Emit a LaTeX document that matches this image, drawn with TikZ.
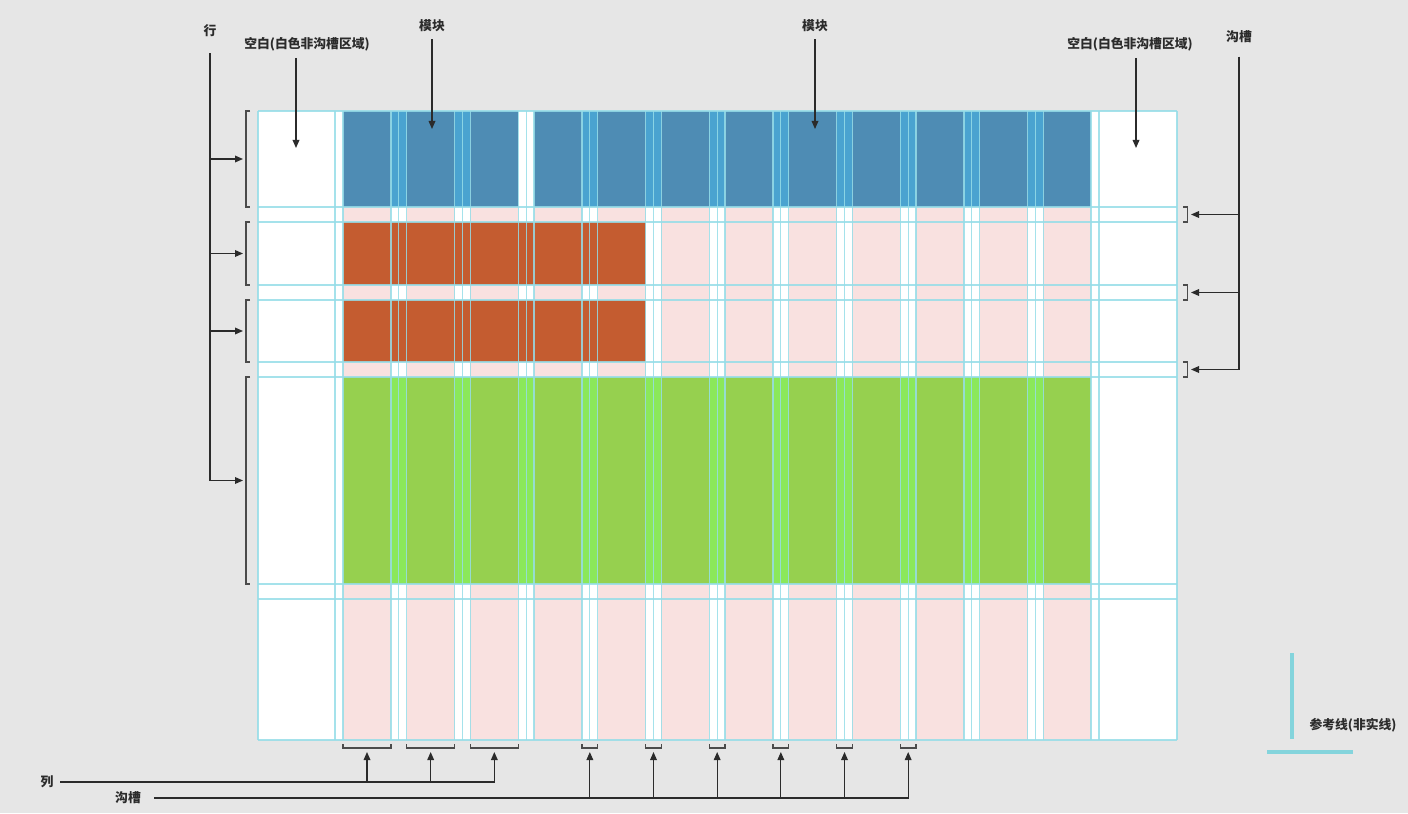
\documentclass[tikz,border=0pt]{standalone}
\usepackage{fontspec}
\setmainfont{Noto Sans CJK SC}
\usetikzlibrary{arrows.meta}

\definecolor{bggray}{HTML}{E6E6E6}
\definecolor{guide}{HTML}{96DDE8}
\definecolor{colpink}{HTML}{F9E1E0}
\definecolor{blueblk}{HTML}{4E8CB4}
\definecolor{bluegut}{HTML}{4AA3D0}
\definecolor{orangeblk}{HTML}{C45C30}
\definecolor{greenblk}{HTML}{96D04F}
\definecolor{greengut}{HTML}{8BE85A}
\definecolor{inkgray}{HTML}{2B2B2B}
\definecolor{refcyan}{HTML}{84D4DC}

\begin{document}
\begin{tikzpicture}[x=0.75pt, y=-0.75pt,
    lbl/.style={font=\bfseries\fontsize{9.6}{12}\selectfont, text=inkgray, inner sep=5pt},
    arr/.style={draw=inkgray, line width=0.9pt, -{Triangle[length=6pt,width=5pt]}},
    brace/.style={draw=inkgray!85, line width=0.8pt},
    guideline/.style={draw=guide, line width=0.9pt, opacity=0.85},
    refline/.style={draw=refcyan, line width=2.6pt}
]

% Canvas
\fill[bggray] (0,0) rectangle (1408,813);
\useasboundingbox (0,0) rectangle (1408,813);

% Grid
\fill[white] (258,111) rectangle (1177,740);
\foreach \i in {0,...,11}
    \fill[colpink] ({343+\i*63.667},111) rectangle ++(48,629);

% Modules
\fill[blueblk] (343,111) rectangle (518.33,207);
\fill[blueblk] (534,111) rectangle (1091,207);
\foreach \i in {0,1,3,4,...,10}
    \fill[bluegut] ({391+\i*63.667},111) rectangle ++(15.667,96);
\fill[orangeblk] (343,222) rectangle (645.67,285);
\fill[orangeblk] (343,300) rectangle (645.67,362);
\fill[greenblk] (343,377) rectangle (1091,584);
\foreach \i in {0,...,10}
    \fill[greengut] ({391+\i*63.667},377) rectangle ++(15.667,207);

% Guide lines
\foreach \x in {258,335,343,1091,1099,1177}
    \draw[guideline] (\x,111) -- (\x,740);
\foreach \i in {0,...,10}
    \foreach \d in {0,7.833,15.667}
        \draw[guideline] ({391+\i*63.667+\d},111) -- ++(0,629);
\foreach \y in {111,207,222,285,300,362,377,584,599,740}
    \draw[guideline] (258,\y) -- (1177,\y);

% Rows
\node[lbl] (rowlbl) at (210,31) {行};
\foreach \n/\a/\b in {1/111/207, 2/222/285, 3/300/362, 4/377/584} {
    \draw[brace] (250,\a) -- (246,\a) -- (246,\b) -- (250,\b);
    \coordinate (rowbr\n) at (243,{(\a+\b)/2});
}
\draw[arr, shorten <=7pt] (rowlbl) |- (rowbr4);
\foreach \n in {1,2,3}
    \draw[arr] (rowlbl |- rowbr\n) -- (rowbr\n);

% Blank margins and modules
\node[lbl] (blankl) at (307,44) {空白(白色非沟槽区域)};
\node[lbl] (blankr) at (1130,44) {空白(白色非沟槽区域)};
\node[lbl] (modl) at (432,26) {模块};
\node[lbl] (modr) at (815,26) {模块};
\coordinate (blankltip) at (296,148);
\coordinate (blankrtip) at (1136,148);
\coordinate (modltip) at (432,129);
\coordinate (modrtip) at (815,129);
\draw[arr] (blankltip |- blankl.south) -- (blankltip);
\draw[arr] (blankrtip |- blankr.south) -- (blankrtip);
\draw[arr] (modl) -- (modltip);
\draw[arr] (modr) -- (modrtip);

% Row gutters
\node[lbl] (gutlbl) at (1239,37) {沟槽};
\foreach \n/\a/\b in {1/207/222, 2/285/300, 3/362/377} {
    \draw[brace] (1183,\a) -- (1187.5,\a) -- (1187.5,\b) -- (1183,\b);
    \coordinate (gutbr\n) at (1191,{(\a+\b)/2});
}
\draw[arr, shorten <=5pt] (gutlbl) |- (gutbr3);
\foreach \n in {1,2}
    \draw[arr] (gutlbl |- gutbr\n) -- (gutbr\n);

% Columns
\foreach \n in {1,2,3} {
    \pgfmathsetmacro\xa{343+(\n-1)*63.667}
    \draw[brace] (\xa,744) -- (\xa,748) -- ({\xa+48},748) -- ({\xa+48},744);
    \coordinate (colbr\n) at ({\xa+24},752);
}
\node[lbl] (collbl) at (47,782) {列};
\draw[arr] (collbl) -| (colbr3);
\foreach \n in {1,2}
    \draw[arr] (colbr\n |- collbl) -- (colbr\n);

% Column gutters
\foreach \n in {3,...,8} {
    \pgfmathsetmacro\xa{391+\n*63.667}
    \draw[brace] (\xa,744) -- (\xa,748) -- ({\xa+15.667},748) -- ({\xa+15.667},744);
    \coordinate (gbr\n) at ({\xa+7.833},752);
}
\node[lbl] (botgut) at (128,798) {沟槽};
\draw[arr, shorten <=5pt] (botgut) -| (gbr8);
\foreach \n in {3,...,7}
    \draw[arr] (gbr\n |- botgut) -- (gbr\n);

% Reference line legend
\draw[refline] (1292,653) -- (1292,739);
\draw[refline] (1267,752) -- (1353,752);
\node[lbl] (reflbl) at (1353,725) {参考线(非实线)};

\end{tikzpicture}
\end{document}
